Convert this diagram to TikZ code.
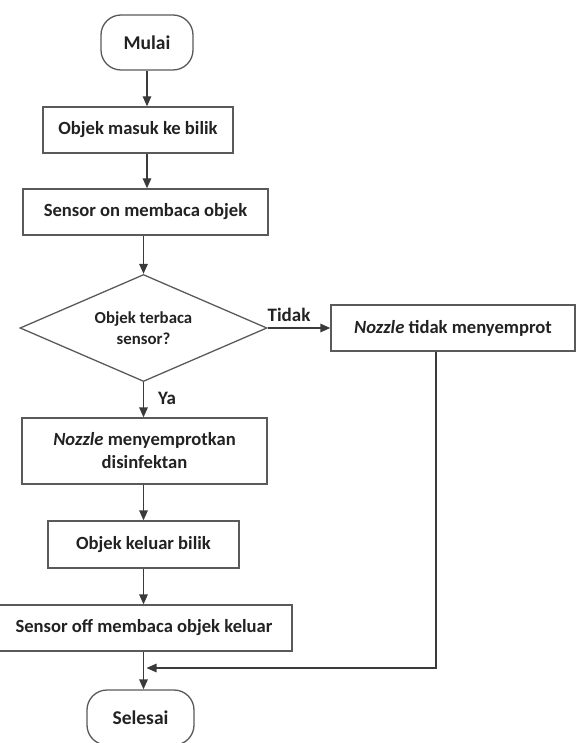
\documentclass[tikz,border=0pt]{standalone}
\usepackage{fontspec}
\setmainfont{Carlito}
\usetikzlibrary{shapes.geometric,arrows.meta}
\definecolor{boxgray}{HTML}{5A5A5A}
\definecolor{linegray}{HTML}{3A3A3A}
\definecolor{txt}{HTML}{222222}
\begin{document}
\begin{tikzpicture}[x=1pt,y=-1pt,
  box/.style={draw=boxgray, line width=1.3pt, fill=white, inner sep=0pt, align=center,
    font=\fontsize{18.6}{23}\selectfont\bfseries, text=txt},
  term/.style={box, rounded corners=20pt, font=\fontsize{19.5}{23}\selectfont\bfseries},
  arr/.style={draw=linegray, line width=1.3pt, -{Triangle[length=10pt,width=8.5pt]}},
  lbl/.style={font=\fontsize{19}{22}\selectfont\bfseries, text=txt, inner sep=0pt}]
\useasboundingbox (0,0) rectangle (576,743);
\node[term, minimum width=92, minimum height=55] (mulai) at (147,42.5) {Mulai};
\node[box, minimum width=190, minimum height=46] (b1) at (138,130) {Objek masuk ke bilik};
\node[box, minimum width=245, minimum height=46] (b2) at (145.5,212) {Sensor on membaca objek};
\node[draw=boxgray, line width=1.3pt, diamond, minimum width=247, minimum height=107, inner sep=0pt] (d) at (143.5,328) {};
\node[lbl, font=\fontsize{16.8}{21}\selectfont\bfseries, align=center] (dt) at (d.center) {Objek terbaca\\sensor?};
\node[box, minimum width=244, minimum height=46] (br) at (453,328) {\textit{Nozzle} tidak menyemprot};
\node[box, minimum width=245, minimum height=66] (b3) at (144.5,451) {\textit{Nozzle} menyemprotkan\\disinfektan};
\node[box, minimum width=191, minimum height=47] (b4) at (143.5,544.5) {Objek keluar bilik};
\node[box, minimum width=296, minimum height=46] (b5) at (144,628) {Sensor off membaca objek keluar};
\node[term, minimum width=107, minimum height=55] (sel) at (140.5,717.5) {Selesai};
\node[lbl] (tidak) at (289,315) {Tidak};
\node[lbl] (ya) at (167,398) {Ya};
\coordinate (j) at (146.5,668);
\draw[arr] (mulai.south) -- (mulai.south |- b1.north);
\draw[arr] (b1.south -| mulai.south) -- (b2.north -| mulai.south);
\draw[arr] (b2.south -| d.north) -- (d.north);
\draw[arr] (d.east) -- (br.west);
\draw[arr] (d.south) -- (d.south |- b3.north);
\draw[arr] (b3.south -| d.south) -- (b4.north -| d.south);
\draw[arr] (b4.south -| d.south) -- (b5.north -| d.south);
\draw[arr] (b5.south -| d.south) -- (sel.north -| d.south);
\draw[arr] ([xshift=-17pt]br.south) |- (j);
\end{tikzpicture}
\end{document}
